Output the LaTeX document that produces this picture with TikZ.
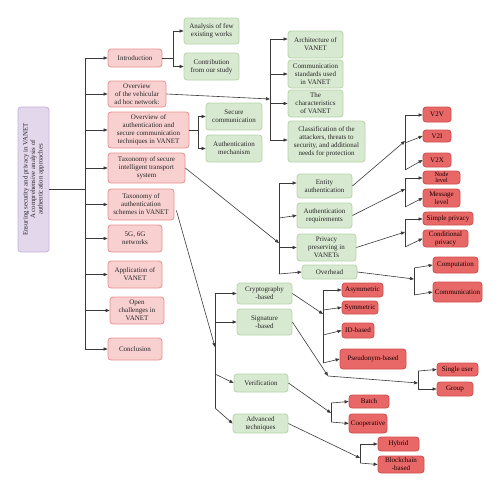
\documentclass[tikz,border=0pt]{standalone}
\usepackage{fontspec}
\setmainfont{Liberation Serif}
\usetikzlibrary{arrows.meta}
\definecolor{pinkfill}{HTML}{F9D0D0}
\definecolor{pinkline}{HTML}{E8908E}
\definecolor{greenfill}{HTML}{D8E9D1}
\definecolor{greenline}{HTML}{B6D4A6}
\definecolor{redfill}{HTML}{E86868}
\definecolor{redline}{HTML}{CF4C4C}
\definecolor{purplefill}{HTML}{E3D7EC}
\definecolor{purpleline}{HTML}{C6B0D8}
\definecolor{linkcol}{HTML}{3A3A3A}
\newcommand{\mybox}[7]{\node[#1, minimum width={#5-#3}, minimum height={#6-#4}] (#2) at ({(#3+#5)/2},{(#4+#6)/2}) {#7};}
\tikzset{
  basebox/.style={rounded corners=3pt, line width=0.8pt, inner sep=0pt, align=center, text=black!85, font=\fontsize{7}{8}\selectfont},
  pinkbox/.style={basebox, draw=pinkline, fill=pinkfill},
  greenbox/.style={basebox, draw=greenline, fill=greenfill},
  redbox/.style={basebox, draw=redline, fill=redfill, text=black!90!red},
  rootbox/.style={basebox, draw=purpleline, fill=purplefill},
  link/.style={draw=linkcol, line width=0.6pt},
  arr/.style={link, -{Triangle[length=4pt,width=3.2pt]}}
}
\begin{document}
\begin{tikzpicture}[x=1pt,y=-1pt]
\useasboundingbox (0,0) rectangle (500,491);
% root
\mybox{rootbox}{root}{18}{107}{49}{252}{}
\node[rotate=90, align=center, font=\fontsize{6.8}{7.6}\selectfont, text=black!85] (roottext) at (root.center) {Ensuring security and privacy in VANET\\A comprehensive analysis of\\authentication approaches};
% level 1
\mybox{pinkbox}{intro}{108}{49}{162}{67}{Introduction}
\mybox{pinkbox}{ovv}{108}{81}{166}{107}{Overview\\of the vehicular\\ad hoc network:}
\mybox{pinkbox}{ova}{108}{112}{189}{148}{Overview of\\authentication and\\secure communication\\techniques in VANET}
\mybox{pinkbox}{tits}{108}{153}{185}{183}{Taxonomy of secure\\intelligent transport\\system}
\mybox{pinkbox}{tas}{108}{189}{174}{220}{Taxonomy of\\authentication\\schemes in VANET}
\mybox{pinkbox}{gfive}{108}{225}{162}{252}{5G, 6G\\networks}
\mybox{pinkbox}{app}{108}{261}{162}{288}{Application of\\VANET}
\mybox{pinkbox}{open}{110}{297}{164}{324}{Open\\challenges in\\VANET}
\mybox{pinkbox}{concl}{108}{338}{162}{360}{Conclusion}
% intro children
\mybox{greenbox}{anl}{184}{18}{239}{44}{Analysis of few\\existing works}
\mybox{greenbox}{con}{184}{53}{239}{80}{Contribution\\from our study}
% ovv children
\mybox{greenbox}{arc}{288}{31}{343}{58}{Architecture of\\VANET}
\mybox{greenbox}{cst}{288}{60}{343}{88}{Communication\\standards used\\in VANET}
\mybox{greenbox}{chr}{288}{90}{343}{117}{The\\characteristics\\of VANET}
\mybox{greenbox}{cls}{288}{121}{365}{162}{Classification of the\\attackers, threats to\\security, and additional\\needs for protection}
% ova children
\mybox{greenbox}{sec}{206}{103}{262}{130}{Secure\\communication}
\mybox{greenbox}{aum}{206}{135}{262}{162}{Authentication\\mechanism}
% tits children
\mybox{greenbox}{ent}{297}{174}{352}{198}{Entity\\authentication}
\mybox{greenbox}{req}{297}{203}{352}{228}{Authentication\\requirements}
\mybox{greenbox}{prv}{297}{234}{356}{261}{Privacy\\preserving in\\VANETs}
\mybox{greenbox}{ovh}{302}{265}{357}{279}{Overhead}
% red leaves
\mybox{redbox}{vtv}{423}{107}{451}{122}{V2V}
\mybox{redbox}{vti}{423}{130}{451}{142}{V2I}
\mybox{redbox}{vtx}{423}{153}{451}{167}{V2X}
\mybox{redbox, font=\fontsize{6.3}{6.3}\selectfont}{nod}{423}{171}{460}{184}{Node\\level}
\mybox{redbox}{msg}{423}{189}{460}{207}{Message\\level}
\mybox{redbox}{smp}{423}{212}{473}{225}{Simple privacy}
\mybox{redbox}{cnd}{423}{230}{468}{247}{Conditional\\privacy}
\mybox{redbox}{cmp}{433}{257}{478}{273}{Computation}
\mybox{redbox}{cmm}{433}{282}{482}{302}{Communication}
% tas children
\mybox{greenbox}{crb}{237}{283}{292}{304}{Cryptography\\-based}
\mybox{greenbox}{sgb}{237}{309}{292}{335}{Signature\\-based}
\mybox{greenbox}{ver}{234}{374}{288}{392}{Verification}
\mybox{greenbox}{adv}{233}{414}{288}{433}{Advanced\\techniques}
\mybox{redbox}{asy}{342}{283}{383}{297}{Asymmetric}
\mybox{redbox}{sym}{342}{301}{378}{314}{Symmetric}
\mybox{redbox}{idb}{342}{323}{374}{338}{ID-based}
\mybox{redbox}{psd}{340}{349}{406}{369}{Pseudonym-based}
\mybox{redbox}{sgu}{437}{363}{478}{376}{Single user}
\mybox{redbox}{grp}{437}{382}{473}{396}{Group}
\mybox{redbox}{bat}{349}{395}{389}{408}{Batch}
\mybox{redbox}{coo}{349}{414}{387}{433}{Cooperative}
\mybox{redbox}{hyb}{378}{437}{419}{451}{Hybrid}
\mybox{redbox}{blk}{378}{456}{424}{473}{Blockchain\\-based}
% ---------------- connectors
% trunk
\coordinate (t0) at (85,189);
\draw[link] ([yshift=-9.5pt]root.east) -- (t0);
\draw[link] (t0 |- intro.west) -- (t0 |- concl.west);
\foreach \n in {intro,ovv,ova,tits,tas,gfive,app,open,concl}
  \draw[arr] (t0 |- \n.west) -- (\n.west);
% intro fork
\coordinate (fa) at (173,58);
\draw[link] (intro.east) -- (fa);
\draw[link] (fa |- anl.west) -- (fa |- con.west);
\draw[arr] (fa |- anl.west) -- (anl.west);
\draw[arr] (fa |- con.west) -- (con.west);
% ovv fork
\coordinate (fb) at (270,99);
\coordinate (fbtop) at (270,39);
\coordinate (fbbot) at (270,140);
\draw[arr] (ovv.east) -- (fb);
\draw[link] (fbtop) -- (fbbot);
\draw[arr] (fbtop) -- (fbtop -| arc.west);
\draw[arr] (fb |- cst.west) -- (cst.west);
\draw[arr] (fb |- chr.west) -- (chr.west);
\draw[arr] (fbbot) -- (fbbot -| cls.west);
% ova fork
\coordinate (fc) at (198,130);
\draw[link] (ova.east) -- (fc);
\draw[link] (fc |- sec.west) -- (fc |- aum.west);
\draw[arr] (fc |- sec.west) -- (sec.west);
\draw[arr] (fc |- aum.west) -- (aum.west);
% tits fork
\coordinate (fd) at (279,243);
\coordinate (fd1) at (279,183);
\coordinate (fd2) at (279,218);
\coordinate (fd4) at (279,274);
\draw[arr] (tits.east) -- (fd);
\draw[link] (fd1) -- (fd4);
\draw[arr] (fd1) -- (fd1 -| ent.west);
\draw[arr] (fd2) -- (req.west);
\draw[arr] (fd |- prv.west) -- (prv.west);
\draw[arr] (fd4) -- (ovh.west);
% V2x fork
\coordinate (fe) at (405,141);
\coordinate (fe1) at (405,115);
\coordinate (fe2) at (405,143);
\coordinate (fe3) at (405,170);
\draw[arr] (ent.east) -- (fe);
\draw[link] (fe1) -- (fe3);
\draw[arr] (fe1) -- (fe1 -| vtv.west);
\draw[arr] (fe2) -- (vti.west);
\draw[arr] (fe3) -- (vtx.west);
% level fork
\coordinate (ff) at (405,189);
\coordinate (ff1) at (405,178);
\coordinate (ff2) at (405,207);
\draw[arr] (req.east) -- (ff);
\draw[link] (ff1) -- (ff2);
\draw[arr] (ff1) -- (ff1 -| nod.west);
\draw[arr] (ff2) -- (msg.west);
% privacy fork
\coordinate (fg) at (405,232);
\coordinate (fg1) at (405,219);
\coordinate (fg2) at (405,247);
\draw[arr] (prv.east) -- (fg);
\draw[link] (fg1) -- (fg2);
\draw[arr] (fg1) -- (fg1 -| smp.west);
\draw[arr] (fg2) -- (cnd.west);
% overhead fork
\coordinate (fh) at (414,279);
\coordinate (fh1) at (414,268);
\coordinate (fh2) at (414,295);
\draw[arr] (ovh.east) -- (fh);
\draw[link] (fh1) -- (fh2);
\draw[arr] (fh1) -- (cmp.west);
\draw[arr] (fh2) -- (cmm.west);
% tas fork
\coordinate (fi) at (215,347);
\coordinate (fi4) at (215,408);
\draw[arr] ([xshift=2pt,yshift=-6pt]tas.east) -- (fi);
\draw[link] (fi |- crb.west) -- (fi4);
\draw[arr] (fi |- crb.west) -- (crb.west);
\draw[arr] (fi |- sgb.west) -- (sgb.west);
\draw[arr] (fi |- 0,374) -- (ver.west);
\draw[arr] (fi4) -- (adv.west);
% crypto fork
\coordinate (fj) at (323,314);
\coordinate (fj1) at (323,290);
\coordinate (fj2) at (323,310);
\coordinate (fj3) at (323,335);
\coordinate (fj4) at (323,363);
\draw[arr] (crb.east) -- (fj);
\draw[link] (fj1) -- (fj4);
\draw[arr] (fj1) -- (fj1 -| asy.west);
\draw[arr] (fj2) -- (sym.west);
\draw[arr] (fj3) -- (idb.west);
\draw[arr] (fj4) -- (psd.west);
% signature
\coordinate (sj) at (328,376);
\coordinate (fk) at (418,383);
\coordinate (fk1) at (418,371);
\coordinate (fk2) at (418,389);
\draw[arr] (sgb.east) -- (sj);
\draw[arr] (sj) -- (fk);
\draw[link] (fk1) -- (fk2);
\draw[arr] (fk1) -- (sgu.west);
\draw[arr] (fk2) -- (grp.west);
% verification fork
\coordinate (fl) at (331,413);
\coordinate (fl1) at (331,403);
\coordinate (fl2) at (331,422);
\draw[arr] (ver.east) -- (fl);
\draw[link] (fl1) -- (fl2);
\draw[arr] (fl1) -- (bat.west);
\draw[arr] (fl2) -- (coo.west);
% advanced fork
\coordinate (fm) at (360,458);
\coordinate (fm1) at (360,444);
\coordinate (fm2) at (360,463);
\draw[arr] (adv.east) -- (fm);
\draw[link] (fm1) -- (fm2);
\draw[arr] (fm1) -- (hyb.west);
\draw[arr] (fm2) -- (blk.west);
\end{tikzpicture}
\end{document}
